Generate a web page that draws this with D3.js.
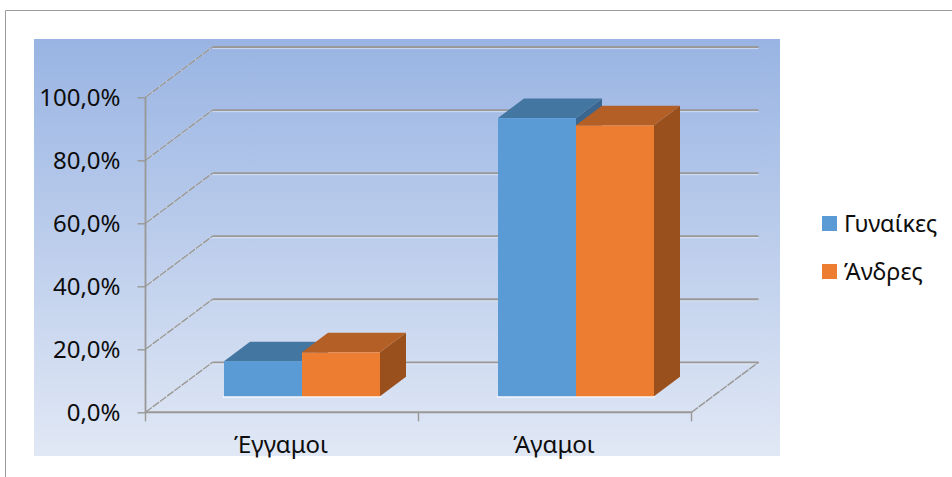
<!DOCTYPE html>
<html><head><meta charset="utf-8">
<script src="https://cdn.jsdelivr.net/npm/d3@7/dist/d3.min.js"></script>
<style>
html,body{margin:0;padding:0;background:#fff;overflow:hidden}
svg{display:block}
text{font-family:"Noto Sans",sans-serif;fill:#0d0d0d}
</style></head><body><svg id="c" width="952" height="477"></svg>
<script>
const categories = ["Έγγαμοι", "Άγαμοι"];
const seriesNames = ["Γυναίκες", "Άνδρες"];
const women = [11.2, 88.6];
const men = [14.0, 86.3];
const tickValues = [0, 20, 40, 60, 80, 100];
const frontColors = ["#5b9bd5", "#ed7d31"];
const topColors = ["#4476a2", "#b45f25"];
const sideColors = ["#3a6690", "#9a501d"];
const seriesValues = [women, men];

const svg = d3.select("#c");
const defs = svg.append("defs");
const grad = defs.append("linearGradient").attr("id","bg").attr("x1",0).attr("y1",0).attr("x2",0).attr("y2",1);
grad.append("stop").attr("offset","0%").attr("stop-color","#99b4e3");
grad.append("stop").attr("offset","100%").attr("stop-color","#e1e8f5");

// frame and background
svg.append("path").attr("d","M5.5,477V10.5H952").attr("fill","none").attr("stroke","#9a9a9a").attr("stroke-width",1);
svg.append("rect").attr("x",34).attr("y",39).attr("width",746).attr("height",417).attr("fill","url(#bg)");

const y = d3.scaleLinear().domain([0,100]).range([412.3,97.3]);
const yBack = d3.scaleLinear().domain([0,100]).range([362.3,47]);
const x = d3.scaleBand().domain(categories).range([145.5,691.5]);
const dx = 67;
const floorRight = 691.5;
const grey = "#999896";

// wall gridlines
tickValues.forEach(t=>{
  svg.append("line").attr("x1",145.5+dx).attr("x2",floorRight+dx).attr("y1",yBack(t)+1.6).attr("y2",yBack(t)+1.6).attr("stroke","#fff").attr("stroke-opacity",.5).attr("stroke-width",1);
  svg.append("line").attr("x1",145.5+dx).attr("x2",floorRight+dx).attr("y1",yBack(t)).attr("y2",yBack(t)).attr("stroke",grey).attr("stroke-width",1.8);
  svg.append("line").attr("x1",145.5).attr("x2",145.5+dx).attr("y1",y(t)).attr("y2",yBack(t)).attr("stroke","#f4f4f4").attr("stroke-width",1.8).attr("stroke-opacity",.35);
  svg.append("line").attr("x1",145.5).attr("x2",145.5+dx).attr("y1",y(t)).attr("y2",yBack(t)).attr("stroke",grey).attr("stroke-width",1.4).attr("stroke-dasharray","8 1");
});
// floor right edge
svg.append("line").attr("x1",floorRight).attr("x2",floorRight+dx).attr("y1",y(0)).attr("y2",yBack(0)).attr("stroke",grey).attr("stroke-width",1.5).attr("stroke-dasharray","8 1");

// axes
const yAxis = d3.axisLeft(y).tickValues(tickValues).tickSize(8).tickPadding(17).tickFormat(d=>d.toFixed(1).replace(".",",")+"%");
const gy = svg.append("g").attr("transform","translate(145.5,0)").call(yAxis);
gy.select(".domain").attr("d","M0,97.3V412.3").attr("stroke",grey).attr("stroke-width",1.8);
gy.selectAll(".tick line").attr("stroke",grey).attr("stroke-width",1.4);
gy.selectAll("text").attr("font-size",24).attr("font-family",'"Noto Sans",sans-serif').attr("fill","#0d0d0d").attr("dy","0.35em");

const xAxis = d3.axisBottom(x).tickSize(0).tickPadding(26);
const gx = svg.append("g").attr("transform","translate(0,412.3)").call(xAxis);
gx.select(".domain").attr("d","M145.5,0H691.5").attr("stroke",grey).attr("stroke-width",2);
gx.selectAll("text").attr("font-size",24).attr("font-family",'"Noto Sans",sans-serif').attr("fill","#0d0d0d").attr("dy","0.62em").attr("dx",-1);
[145.5,418.5,691.5].forEach(px=>gx.append("line").attr("x1",px).attr("x2",px).attr("y1",0).attr("y2",9).attr("stroke",grey).attr("stroke-width",1.4));

// 3D bars
const barBase = 396.3;
const barScale = d3.scaleLinear().domain([0,100]).range([barBase,barBase-314]);
const barW = 78, bdx = 26, bdy = -19.5;
const barLeft = {"Έγγαμοι":224, "Άγαμοι":498};
const bars = [];
categories.forEach((c,ci)=>seriesNames.forEach((s,si)=>bars.push({c,si,v:seriesValues[si][ci]})));
// white base
categories.forEach(c=>svg.append("line").attr("x1",barLeft[c]-1).attr("x2",barLeft[c]+2*barW+1).attr("y1",barBase+.5).attr("y2",barBase+.5).attr("stroke","#fff").attr("stroke-width",1.6));
const g = svg.append("g").selectAll("g").data(bars).join("g");
g.append("path").attr("fill",d=>sideColors[d.si]).attr("d",d=>{
  const x1=barLeft[d.c]+d.si*barW+barW, t=barScale(d.v);
  return `M${x1},${t}l${bdx},${bdy}V${barBase+bdy}L${x1},${barBase}Z`;});
g.append("path").attr("fill",d=>topColors[d.si]).attr("d",d=>{
  const x0=barLeft[d.c]+d.si*barW, t=barScale(d.v);
  return `M${x0},${t}l${bdx},${bdy}h${barW}l${-bdx},${-bdy}Z`;});
g.append("rect").attr("x",d=>barLeft[d.c]+d.si*barW).attr("width",barW).attr("y",d=>barScale(d.v)).attr("height",d=>barBase-barScale(d.v)).attr("fill",d=>frontColors[d.si]);

// legend
const lg = svg.append("g").selectAll("g").data(seriesNames).join("g").attr("transform",(d,i)=>`translate(822,${216+i*48})`);
lg.append("rect").attr("width",15).attr("height",15).attr("fill",(d,i)=>frontColors[i]);
lg.append("text").attr("x",22).attr("y",16).attr("font-size",23.5).text(d=>d);
</script></body></html>
